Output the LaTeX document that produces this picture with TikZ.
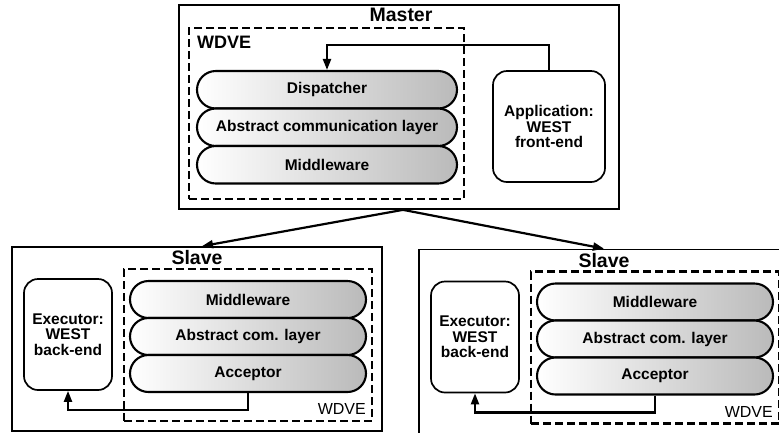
\documentclass[tikz,border=0pt]{standalone}
\usepackage{fontspec}
\setmainfont{Liberation Sans}
\usetikzlibrary{arrows.meta,shapes.misc}
\newcommand\slavegroup[3]{%
\begin{scope}[shift={(#2,#3)}]
 \node[solidbox, minimum width=370pt, minimum height=184pt] (#1box) at (197,339) {};
 \node[titletext] (#1title) at (197,258) {Slave};
 \node[dashbox, minimum width=248pt, minimum height=152pt] (#1wdve) at (248,345) {};
 \node[layer, minimum width=236pt, minimum height=37pt] (#1mid) at (248,299.5) {Middleware};
 \node[layer, minimum width=236pt, minimum height=37pt] (#1acl) at (248,336.5) {Abstract com. layer};
 \node[layer, minimum width=236pt, minimum height=37pt] (#1acc) at (248,373.5) {Acceptor};
 \node[appbox, minimum width=88pt, minimum height=111pt] (#1ex) at (68,334.5) {Executor:\\WEST\\back-end};
 \node[smalllabel, anchor=east] (#1lab) at (366,409) {WDVE};
 \draw[conn] (#1acc.south) -- ++(0,17) -| (#1ex.south);
\end{scope}}
\begin{document}
\begin{tikzpicture}[x=1pt,y=-1pt,
  solidbox/.style={draw, line width=1.7pt, inner sep=0pt},
  dashbox/.style={draw, line width=2.2pt, dash pattern=on 8pt off 4pt, inner sep=0pt},
  layer/.style={rounded rectangle, draw, line width=2.1pt, left color=white, right color=black!27,
     font=\bfseries\fontsize{15.5}{16}\selectfont, inner sep=0pt},
  appbox/.style={draw, rounded corners=14pt, line width=1.7pt, align=center, fill=white,
     font=\bfseries\fontsize{15.5}{15.5}\selectfont, inner sep=0pt},
  titletext/.style={font=\bfseries\fontsize{19.5}{20}\selectfont, inner sep=0pt},
  wdvetext/.style={font=\bfseries\fontsize{18}{18}\selectfont, inner sep=0pt},
  smalllabel/.style={font=\fontsize{16}{16}\selectfont, inner sep=0pt},
  conn/.style={line width=2.2pt, -{Triangle[length=11pt,width=8pt]}}]
\useasboundingbox (0,0) rectangle (779,432);
% Master
\node[solidbox, minimum width=440pt, minimum height=204pt] (master) at (399,107) {};
\node[titletext] (mtitle) at (401,15) {Master};
\node[dashbox, minimum width=275pt, minimum height=171pt] (mwdve) at (326.5,113.5) {};
\node[wdvetext, anchor=west] (mwlab) at (197,42) {WDVE};
\node[layer, minimum width=260pt, minimum height=37.5pt] (disp) at (327,89.75) {Dispatcher};
\node[layer, minimum width=260pt, minimum height=37.5pt] (acl) at (327,127.25) {Abstract communication layer};
\node[layer, minimum width=260pt, minimum height=37.5pt] (mid) at (327,164.75) {Middleware};
\node[appbox, minimum width=112pt, minimum height=111pt] (app) at (549,126.5) {Application:\\WEST\\front-end};
\draw[conn] (app.north) -- ++(0,-25) -| (disp.north);
% Slaves
\slavegroup{L}{0}{0}
\slavegroup{R}{407}{2.5}
\coordinate (apex) at ([xshift=4pt]master.south);
\draw[conn] (apex) -- ([xshift=5pt]Lbox.north);
\draw[conn] (apex) -- (Rbox.north);
\end{tikzpicture}
\end{document}
